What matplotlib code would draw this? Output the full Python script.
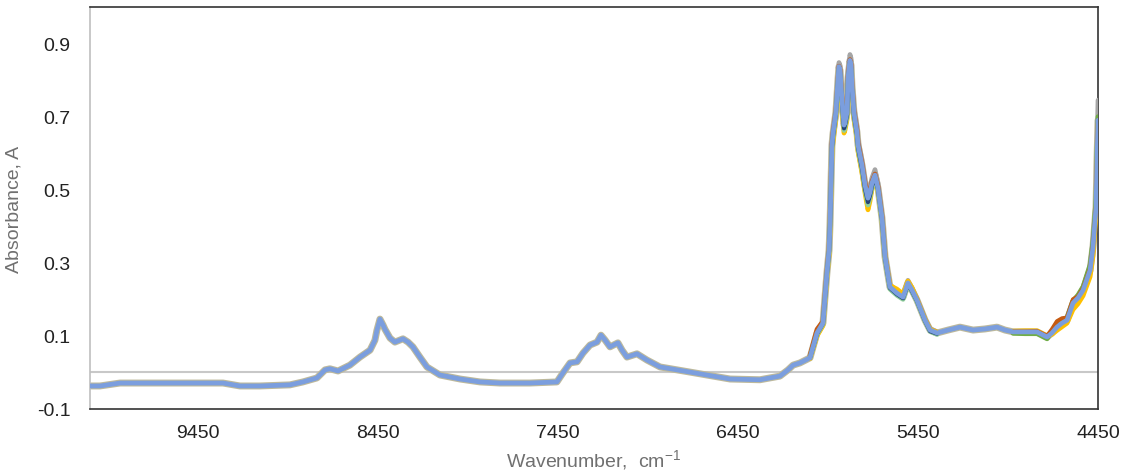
import matplotlib
matplotlib.use("Agg")
import matplotlib.pyplot as plt

plt.rcParams['font.family'] = ['Liberation Sans', 'DejaVu Sans']
plt.rcParams['mathtext.fontset'] = 'custom'
plt.rcParams['mathtext.rm'] = 'Liberation Sans'
plt.rcParams['mathtext.it'] = 'Liberation Sans'
plt.rcParams['lines.solid_joinstyle'] = 'round'
plt.rcParams['lines.solid_capstyle'] = 'round'

# full spectrum (top, blue)
wavenumber = [10050, 9994, 9883, 9661, 9439, 9311, 9217, 9106, 8939, 8867,
              8789, 8744, 8717, 8672, 8606, 8550, 8494, 8467, 8456, 8439,
              8422, 8411, 8383, 8356, 8311, 8283, 8256, 8217, 8178, 8106,
              7994, 7883, 7772, 7606, 7456, 7422, 7383, 7344, 7311, 7272,
              7233, 7211, 7189, 7161, 7117, 7094, 7067, 7011, 6956, 6883,
              6717, 6494, 6328, 6217, 6172, 6144, 6106, 6050, 6011, 5978,
              5956, 5944, 5939, 5928, 5922, 5906, 5894, 5889, 5883, 5878,
              5867, 5861, 5856, 5844, 5839, 5828, 5822, 5817, 5806, 5789,
              5783, 5761, 5744, 5728, 5717, 5706, 5689, 5672, 5650, 5633,
              5606, 5567, 5533, 5506, 5483, 5456, 5411, 5383, 5344, 5283,
              5217, 5144, 5078, 5011, 4967, 4922, 4856, 4789, 4733, 4706,
              4678, 4650, 4622, 4589, 4561, 4533, 4494, 4478, 4461, 4456,
              4450]
absorbance = [-0.037, -0.037, -0.029, -0.029, -0.029, -0.029, -0.037, -0.037, -0.034, -0.026,
              -0.015, 0.007, 0.010, 0.004, 0.020, 0.042, 0.061, 0.088, 0.115, 0.146,
              0.130, 0.118, 0.094, 0.083, 0.092, 0.083, 0.070, 0.042, 0.015, -0.007,
              -0.018, -0.026, -0.029, -0.029, -0.026, -0.001, 0.026, 0.029, 0.053, 0.075,
              0.083, 0.102, 0.089, 0.070, 0.081, 0.061, 0.042, 0.051, 0.034, 0.015,
              0.001, -0.018, -0.020, -0.010, 0.007, 0.020, 0.026, 0.040, 0.108, 0.135,
              0.272, 0.335, 0.403, 0.622, 0.654, 0.712, 0.805, 0.837, 0.826, 0.785,
              0.712, 0.677, 0.685, 0.712, 0.805, 0.854, 0.840, 0.785, 0.712, 0.657,
              0.622, 0.567, 0.512, 0.477, 0.493, 0.518, 0.540, 0.504, 0.422, 0.316,
              0.234, 0.217, 0.206, 0.245, 0.225, 0.198, 0.143, 0.116, 0.108, 0.116,
              0.124, 0.116, 0.119, 0.124, 0.116, 0.111, 0.111, 0.111, 0.097, 0.108,
              0.124, 0.135, 0.143, 0.190, 0.204, 0.225, 0.280, 0.343, 0.452, 0.572,
              0.690]

# other samples where they separate from the blue one: C-H band region
peak_wn = [6050, 6011, 5978, 5956, 5944, 5939, 5928, 5922, 5906, 5894,
           5889, 5883, 5878, 5867, 5861, 5856, 5844, 5839, 5828, 5822,
           5817, 5806, 5789, 5783, 5761, 5744, 5728, 5717, 5706, 5689,
           5672, 5650, 5633, 5606, 5567, 5533, 5506, 5483, 5456, 5411,
           5383, 5344]
peak_gray = [0.042, 0.110, 0.138, 0.278, 0.342, 0.410, 0.630, 0.662, 0.722, 0.815,
             0.848, 0.840, 0.800, 0.728, 0.692, 0.700, 0.728, 0.822, 0.870, 0.860,
             0.802, 0.728, 0.672, 0.636, 0.580, 0.525, 0.490, 0.506, 0.532, 0.555,
             0.518, 0.432, 0.325, 0.240, 0.224, 0.213, 0.252, 0.230, 0.203, 0.147,
             0.120, 0.111]
peak_yellow = [0.038, 0.100, 0.128, 0.262, 0.322, 0.390, 0.600, 0.632, 0.695, 0.790,
               0.822, 0.810, 0.765, 0.690, 0.655, 0.662, 0.692, 0.790, 0.838, 0.825,
               0.768, 0.695, 0.640, 0.604, 0.545, 0.490, 0.445, 0.468, 0.500, 0.535,
               0.496, 0.415, 0.315, 0.238, 0.228, 0.215, 0.250, 0.232, 0.200, 0.145,
               0.118, 0.110]
peak_green = [0.040, 0.104, 0.132, 0.268, 0.330, 0.398, 0.612, 0.645, 0.704, 0.798,
              0.830, 0.818, 0.775, 0.700, 0.662, 0.670, 0.700, 0.796, 0.845, 0.830,
              0.775, 0.702, 0.645, 0.610, 0.553, 0.498, 0.458, 0.478, 0.506, 0.532,
              0.496, 0.414, 0.310, 0.228, 0.211, 0.200, 0.240, 0.220, 0.194, 0.140,
              0.112, 0.104]
peak_orange = [0.046, 0.118, 0.140, 0.275, 0.338, 0.406, 0.624, 0.655, 0.714, 0.806,
               0.838, 0.828, 0.788, 0.716, 0.681, 0.689, 0.716, 0.808, 0.856, 0.843,
               0.789, 0.716, 0.662, 0.628, 0.572, 0.518, 0.482, 0.498, 0.522, 0.543,
               0.508, 0.426, 0.318, 0.235, 0.218, 0.207, 0.246, 0.226, 0.199, 0.144,
               0.117, 0.109]
peak_navy = [0.040, 0.106, 0.134, 0.270, 0.333, 0.400, 0.615, 0.648, 0.708, 0.800,
             0.832, 0.820, 0.778, 0.704, 0.668, 0.676, 0.705, 0.800, 0.848, 0.834,
             0.778, 0.705, 0.650, 0.615, 0.558, 0.502, 0.466, 0.484, 0.510, 0.536,
             0.500, 0.418, 0.313, 0.231, 0.214, 0.203, 0.242, 0.222, 0.196, 0.141,
             0.113, 0.106]

# tail region near 4450
tail_wn = [4922, 4856, 4789, 4733, 4706, 4678, 4650, 4622, 4589, 4561,
           4533, 4494, 4478, 4461, 4456, 4450]
tail_gray = [0.109, 0.108, 0.108, 0.095, 0.110, 0.128, 0.140, 0.150, 0.195, 0.210,
             0.232, 0.290, 0.355, 0.470, 0.600, 0.745]
tail_yellow = [0.113, 0.114, 0.114, 0.100, 0.104, 0.115, 0.125, 0.135, 0.172, 0.188,
               0.210, 0.262, 0.320, 0.430, 0.550, 0.680]
tail_green = [0.107, 0.106, 0.106, 0.092, 0.112, 0.130, 0.142, 0.150, 0.196, 0.212,
              0.235, 0.295, 0.360, 0.475, 0.595, 0.700]
tail_orange = [0.112, 0.112, 0.113, 0.100, 0.118, 0.140, 0.148, 0.150, 0.200, 0.208,
               0.230, 0.285, 0.348, 0.455, 0.575, 0.690]

xticks = [9450, 8450, 7450, 6450, 5450, 4450]
yticks = [-0.1, 0.1, 0.3, 0.5, 0.7, 0.9]

fig = plt.figure(figsize=(11.3, 4.77), dpi=100)
ax = fig.add_axes([0.0796, 0.1405, 0.8921, 0.8427])

ax.axhline(0, color='#c8c8c8', lw=1.5, zorder=1)

# halo of the overlapping samples along the whole spectrum
ax.plot(wavenumber, absorbance, color='#bdb99c', lw=5.0, zorder=2)

ax.plot(peak_wn, peak_gray, color='#a5a5a5', lw=3.4, zorder=3)
ax.plot(peak_wn, peak_orange, color='#c55a11', lw=3.4, zorder=3)
ax.plot(peak_wn, peak_yellow, color='#ffc000', lw=3.4, zorder=3)
ax.plot(peak_wn, peak_green, color='#8fcf9a', lw=3.4, zorder=3)
ax.plot(peak_wn, peak_navy, color='#264478', lw=3.0, zorder=3)
ax.plot(tail_wn, tail_gray, color='#a5a5a5', lw=3.4, zorder=3)
ax.plot(tail_wn, tail_green, color='#70ad47', lw=3.4, zorder=3)
ax.plot(tail_wn, tail_yellow, color='#ffc000', lw=3.4, zorder=3)
ax.plot(tail_wn, tail_orange, color='#c55a11', lw=3.0, zorder=3)

ax.plot(wavenumber, absorbance, color='#7b9ede', lw=3.4, zorder=4)

ax.set_xlim(10050, 4450)
ax.set_ylim(-0.1, 1.0)

ax.set_xticks(xticks)
ax.set_xticklabels([str(v) for v in xticks])
ax.set_yticks(yticks)
ax.set_yticklabels(['-0.1', '0.1', '0.3', '0.5', '0.7', '0.9'])
ax.tick_params(length=0, labelsize=14, colors='#222222')
ax.tick_params(axis='y', pad=14)
ax.tick_params(axis='x', pad=11)

for side in ['top', 'right', 'bottom']:
    ax.spines[side].set_color('#333333')
    ax.spines[side].set_linewidth(1.2)
ax.spines['left'].set_color('#bfbfbf')
ax.spines['left'].set_linewidth(1.2)

ax.set_ylabel('Absorbance, A', fontsize=14, color='#707070', labelpad=10)
ax.set_xlabel('Wavenumber,  cm$^{-1}$', fontsize=14, color='#707070', labelpad=4)

fig.savefig('out.png', dpi=100)
